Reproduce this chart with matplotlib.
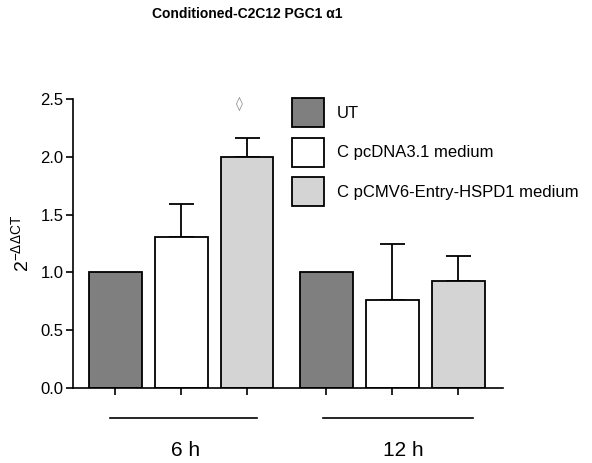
import numpy as np
import matplotlib
matplotlib.use("Agg")
import matplotlib.pyplot as plt

plt.rcParams['font.family'] = ['Liberation Sans', 'DejaVu Sans']
plt.rcParams['mathtext.fontset'] = 'custom'
plt.rcParams['mathtext.rm'] = 'Liberation Sans'
plt.rcParams['mathtext.default'] = 'regular'

#chart data
groups = ["6 h", "12 h"]
series = ["UT", "C pcDNA3.1 medium", "C pCMV6-Entry-HSPD1 medium"]
means6 = [1.0, 1.31, 2.0]
errs6 = [0.0, 0.28, 0.16]
means12 = [1.0, 0.76, 0.925]
errs12 = [0.0, 0.49, 0.215]
colors = ["#7f7f7f", "#ffffff", "#d4d4d4"]
yticks = [0.0, 0.5, 1.0, 1.5, 2.0, 2.5]

#bar layout
groupStep = 3.2
barWidth = 0.8

fig = plt.figure(figsize=(5.92, 4.63), dpi=100)
ax = fig.add_axes([73/592, 1-388/463, 430/592, 289/463])

means = [means6, means12]
errs = [errs6, errs12]
for s in range(len(series)):
    xs = [g*groupStep + s for g in range(len(groups))]
    hs = [means[g][s] for g in range(len(groups))]
    es = [errs[g][s] for g in range(len(groups))]
    ax.bar(xs, hs, width=barWidth, color=colors[s], edgecolor="black",
           linewidth=1.3, label=series[s], zorder=2)
    for x, h, e in zip(xs, hs, es):
        if e > 0:
            ax.errorbar(x, h, yerr=[[0], [e]], fmt="none", ecolor="black",
                        elinewidth=1.3, capsize=9, capthick=1.3, zorder=1)

#significance marker over the 6 h HSPD1 bar
ax.text(2 - 0.12, 2.46, "\u25ca", ha="center", va="center", fontsize=10,
        color="#888888", family=["DejaVu Sans"])

ax.set_xlim(-0.64, 5.88)
ax.set_ylim(0, 2.5)
ax.set_yticks(yticks)
ax.set_yticklabels(["%.1f" % t for t in yticks], fontsize=12)
ax.set_xticks([g*groupStep + s for g in range(len(groups)) for s in range(len(series))])
ax.set_xticklabels([])
ax.tick_params(axis="both", direction="out", length=5, width=1.2)
ax.tick_params(axis="y", pad=2)
for side in ["top", "right"]:
    ax.spines[side].set_visible(False)
for side in ["left", "bottom"]:
    ax.spines[side].set_linewidth(1.2)

ax.set_ylabel("2$^{-\\Delta\\Delta CT}$", fontsize=14)
ax.yaxis.set_label_coords(-0.095, 0.5)

#group lines and labels under the axis
lineY = -0.105
ax.plot([-0.08, 2.15], [lineY, lineY], color="black", lw=1.2,
        transform=ax.get_xaxis_transform(), clip_on=False)
ax.plot([3.15, 5.42], [lineY, lineY], color="black", lw=1.2,
        transform=ax.get_xaxis_transform(), clip_on=False)
ax.text(1.07, -0.215, groups[0], ha="center", va="center", fontsize=15,
        transform=ax.get_xaxis_transform())
ax.text(4.37, -0.215, groups[1], ha="center", va="center", fontsize=15,
        transform=ax.get_xaxis_transform())

fig.suptitle("Conditioned-C2C12 PGC1 \u03b11", x=247/592, y=1-14/463,
             fontsize=10, fontweight="bold", va="center")

ax.legend(loc="upper left", bbox_to_anchor=(292/592, 1-98/463),
          bbox_transform=fig.transFigure, frameon=False, fontsize=12,
          handlelength=1.92, handleheight=2.3, labelspacing=0.63,
          handletextpad=0.78, borderpad=0, borderaxespad=0)

fig.savefig("out.png", dpi=100)
